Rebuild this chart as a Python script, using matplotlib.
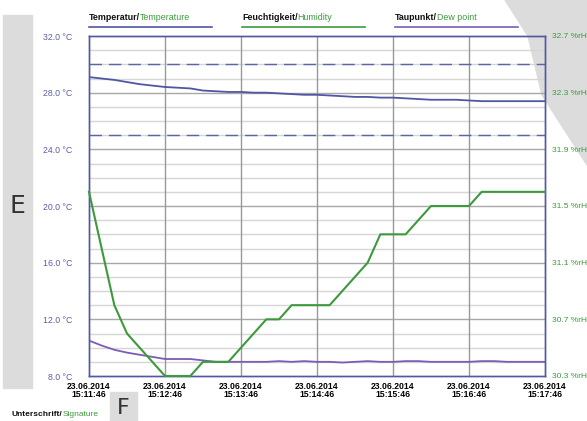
import numpy as np
import matplotlib.pyplot as plt
from matplotlib.patches import Polygon, Rectangle

plt.rcParams['font.family'] = ['Liberation Sans', 'DejaVu Sans']

# samples every 10 s, 15:11:46 .. 15:17:46
seconds = list(range(0, 361, 10))
temperature = [29.1, 29.0, 28.9, 28.75, 28.6, 28.5, 28.4, 28.35, 28.3, 28.15,
               28.1, 28.05, 28.05, 28.0, 28.0, 27.95, 27.9, 27.85, 27.85, 27.8,
               27.75, 27.7, 27.7, 27.65, 27.65, 27.6, 27.55, 27.5, 27.5, 27.5,
               27.45, 27.4, 27.4, 27.4, 27.4, 27.4, 27.4]
humidity = [31.6, 31.2, 30.8, 30.6, 30.5, 30.4, 30.3, 30.3, 30.3, 30.4,
            30.4, 30.4, 30.5, 30.6, 30.7, 30.7, 30.8, 30.8, 30.8, 30.8,
            30.9, 31.0, 31.1, 31.3, 31.3, 31.3, 31.4, 31.5, 31.5, 31.5,
            31.5, 31.6, 31.6, 31.6, 31.6, 31.6, 31.6]
dew_point = [10.5, 10.15, 9.85, 9.65, 9.5, 9.35, 9.2, 9.2, 9.2, 9.1,
             9.0, 9.0, 9.0, 9.0, 9.0, 9.05, 9.0, 9.05, 9.0, 9.0,
             8.95, 9.0, 9.05, 9.0, 9.0, 9.05, 9.05, 9.0, 9.0, 9.0,
             9.0, 9.05, 9.05, 9.0, 9.0, 9.0, 9.0]
limits = [30.0, 25.0]

x_labels = ['23.06.2014\n15:11:46', '23.06.2014\n15:12:46', '23.06.2014\n15:13:46',
            '23.06.2014\n15:14:46', '23.06.2014\n15:15:46', '23.06.2014\n15:16:46',
            '23.06.2014\n15:17:46']
temp_ticks = [8, 12, 16, 20, 24, 28, 32]
hum_ticks = [30.3, 30.7, 31.1, 31.5, 31.9, 32.3, 32.7]

c_temp = '#4f56a3'
c_hum = '#3c9a3c'
c_dew = '#7c5cb6'
c_grey = '#dcdcdc'

fig = plt.figure(figsize=(5.87, 4.21), dpi=100)

# decorations in figure pixels
W, H = 587, 421
def px(x, y):
    return (x / W, 1 - y / H)

fig.patches.append(Polygon([px(505, 0), px(587, 0), px(587, 165), px(542, 95), px(528, 36)],
                           closed=True, transform=fig.transFigure, color=c_grey, zorder=-5))
fig.patches.append(Rectangle(px(3, 388), 29 / W, 373 / H, transform=fig.transFigure,
                             color=c_grey, zorder=-5))
fig.patches.append(Rectangle(px(110, 421), 27 / W, 29 / H, transform=fig.transFigure,
                             color=c_grey, zorder=-5))
fig.text(*px(17, 206), 'E', fontsize=18, color='#333333', ha='center', va='center',
         family='DejaVu Sans')
fig.text(*px(123, 408), 'F', fontsize=16, color='#333333', ha='center', va='center',
         family='DejaVu Sans')

ax = fig.add_axes([89 / W, 1 - 376 / H, 456 / W, 340 / H])
ax.set_facecolor('none')
ax.set_xlim(0, 360)
ax.set_ylim(8, 32)

# grid
for v in np.arange(9, 32, 1):
    if v % 4:
        ax.axhline(v, color='#d6d6d6', lw=1, zorder=1)
for v in temp_ticks[1:-1]:
    ax.axhline(v, color='#a8a8a8', lw=1, zorder=1)
for s in range(60, 360, 60):
    ax.axvline(s, color='#999999', lw=1, zorder=1)
for v in limits:
    ax.axhline(v, color='#5a64a8', lw=1, dashes=(9, 5), zorder=2)

ax.plot(seconds, temperature, color=c_temp, lw=1.3, zorder=3)
ax.plot(seconds, dew_point, color=c_dew, lw=1.3, zorder=3)

ax.set_xticks(range(0, 361, 60))
ax.set_xticklabels(x_labels, fontsize=6.2, fontweight='bold', linespacing=0.95)
ax.set_yticks(temp_ticks)
ax.set_yticklabels(['%.1f °C' % v for v in temp_ticks], fontsize=6.3, color='#5a5ea4')
ax.tick_params(length=0, pad=12)
ax.tick_params(axis='x', pad=4)
for sp in ax.spines.values():
    sp.set_color('#5058a0')
    sp.set_linewidth(1)

ax2 = ax.twinx()
ax2.set_facecolor('none')
ax2.set_ylim(30.3, 32.7)
ax2.plot(seconds, humidity, color=c_hum, lw=1.5, zorder=4, clip_on=False)
ax2.set_yticks(hum_ticks)
ax2.set_yticklabels(['%.1f %%rH' % v for v in hum_ticks], fontsize=6.0, color=c_hum)
ax2.tick_params(length=0, pad=5)
for sp in ax2.spines.values():
    sp.set_color('#5058a0')
    sp.set_linewidth(1)

# legend headers with underlines
def two_tone(x, y, first, second, color, size=6.4):
    t1 = fig.text(*px(x, y), first, fontsize=size, fontweight='bold', color='#111111',
                  va='baseline')
    ax.annotate(second, xy=(1, 0), xycoords=t1, fontsize=size, color=color,
                va='bottom', ha='left', annotation_clip=False)

two_tone(89, 20, 'Temperatur/', 'Temperature', c_hum)
two_tone(242, 20, 'Feuchtigkeit/', 'Humidity', c_hum)
two_tone(395, 20, 'Taupunkt/', 'Dew point', c_hum)
for x0, col in [(89, c_temp), (242, c_hum), (395, c_dew)]:
    fig.add_artist(plt.Line2D([x0 / W, (x0 + 123) / W], [1 - 27 / H, 1 - 27 / H],
                              color=col, lw=1.2, transform=fig.transFigure))

two_tone(12, 416, 'Unterschrift/', 'Signature', c_hum, size=6.0)

fig.savefig('out.png', dpi=100)
